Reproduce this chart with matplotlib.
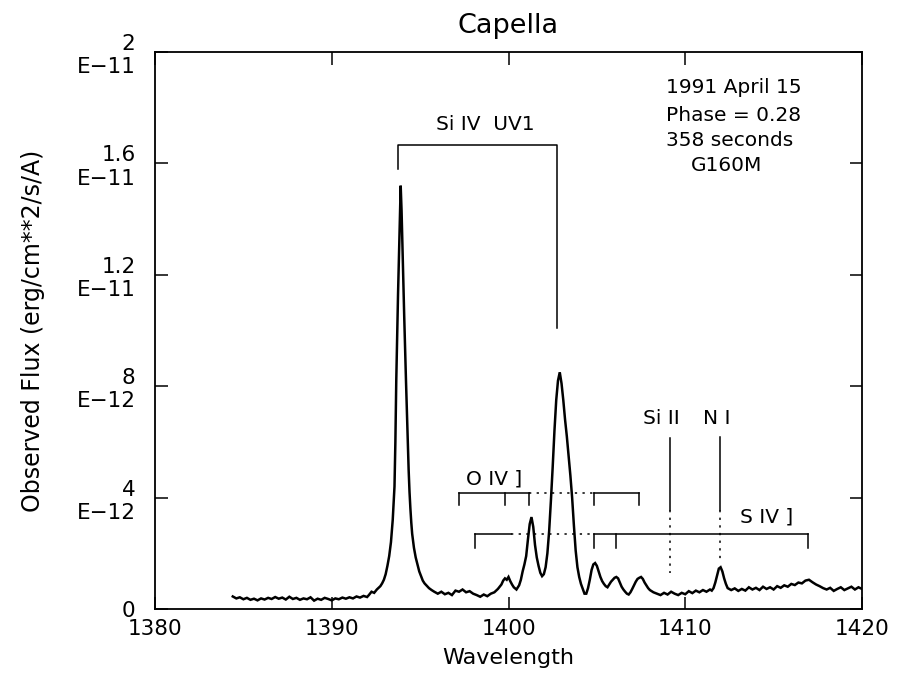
import matplotlib
matplotlib.use("Agg")
import matplotlib.pyplot as plt

plt.rcParams['font.family'] = ['DejaVu Sans']

# ---------------- data (flux in units of 1e-12 erg/cm^2/s/A) ----------------
wave = [
    1384.4, 1384.6, 1384.8, 1385.0, 1385.2, 1385.4, 1385.6, 1385.8, 1386.0, 1386.2,
    1386.4, 1386.6, 1386.8, 1387.0, 1387.2, 1387.4, 1387.6, 1387.8, 1388.0, 1388.2,
    1388.4, 1388.6, 1388.8, 1389.0, 1389.2, 1389.4, 1389.6, 1389.8, 1390.0, 1390.2,
    1390.4, 1390.6, 1390.8, 1391.0, 1391.2, 1391.4, 1391.6, 1391.8, 1392.0,
    1392.1, 1392.25, 1392.4, 1392.55, 1392.65, 1392.75, 1392.85, 1392.95, 1393.05, 1393.15,
    1393.25, 1393.35, 1393.45, 1393.55, 1393.6, 1393.65, 1393.7, 1393.75, 1393.8, 1393.85,
    1393.9, 1393.95, 1394.0, 1394.05, 1394.1, 1394.15, 1394.2, 1394.25, 1394.3, 1394.35,
    1394.4, 1394.45, 1394.5, 1394.55, 1394.65, 1394.75, 1394.85, 1394.95, 1395.05, 1395.15,
    1395.25, 1395.35, 1395.5, 1395.65, 1395.8,
    1396.0, 1396.2, 1396.4, 1396.6, 1396.8, 1397.0, 1397.2, 1397.4, 1397.6, 1397.8,
    1398.0, 1398.2, 1398.4, 1398.6, 1398.8, 1399.0, 1399.2, 1399.4, 1399.6, 1399.7,
    1399.8, 1399.9, 1400.0, 1400.1, 1400.2, 1400.3, 1400.45, 1400.6, 1400.7, 1400.8,
    1400.9, 1401.0, 1401.1, 1401.2, 1401.3, 1401.4, 1401.5, 1401.6, 1401.7, 1401.8,
    1401.9, 1402.0, 1402.1, 1402.2, 1402.3, 1402.4, 1402.5, 1402.6, 1402.7, 1402.8,
    1402.9, 1403.0, 1403.1, 1403.2, 1403.3, 1403.4, 1403.5, 1403.6, 1403.7, 1403.8,
    1403.9, 1404.0, 1404.1, 1404.2, 1404.3, 1404.4, 1404.5, 1404.6, 1404.7, 1404.8,
    1404.9, 1405.0, 1405.1, 1405.2, 1405.3, 1405.4, 1405.5, 1405.6, 1405.7, 1405.8,
    1405.9, 1406.0, 1406.1, 1406.2, 1406.3, 1406.4, 1406.5, 1406.6, 1406.7, 1406.8,
    1406.9, 1407.0, 1407.1, 1407.2, 1407.3, 1407.4, 1407.5, 1407.6, 1407.7, 1407.8,
    1407.9, 1408.0, 1408.2, 1408.4, 1408.6, 1408.8, 1409.0, 1409.2, 1409.4, 1409.6,
    1409.8, 1410.0, 1410.2, 1410.4, 1410.6, 1410.8, 1411.0, 1411.2, 1411.4, 1411.5,
    1411.6, 1411.7, 1411.8, 1411.9, 1412.0, 1412.1, 1412.2, 1412.3, 1412.4, 1412.6,
    1412.8, 1413.0, 1413.2, 1413.4, 1413.6, 1413.8, 1414.0, 1414.2, 1414.4, 1414.6,
    1414.8, 1415.0, 1415.2, 1415.4, 1415.6, 1415.8, 1416.0, 1416.2, 1416.4, 1416.6,
    1416.8, 1417.0, 1417.2, 1417.4, 1417.6, 1417.8, 1418.0, 1418.2, 1418.4, 1418.6,
    1418.8, 1419.0, 1419.2, 1419.4, 1419.6, 1419.8, 1420.0,
]
flux = [
    0.45, 0.38, 0.42, 0.35, 0.40, 0.33, 0.37, 0.31, 0.38, 0.34,
    0.40, 0.36, 0.43, 0.37, 0.41, 0.34, 0.44, 0.36, 0.40, 0.33,
    0.38, 0.35, 0.42, 0.30, 0.37, 0.33, 0.40, 0.36, 0.31, 0.38,
    0.35, 0.41, 0.37, 0.42, 0.38, 0.45, 0.41, 0.47, 0.43,
    0.50, 0.62, 0.58, 0.70, 0.76, 0.82, 0.92, 1.05, 1.25, 1.55,
    1.90, 2.40, 3.20, 4.40, 6.00, 8.20, 9.80, 11.30, 12.60, 14.00,
    15.20, 14.30, 13.00, 11.80, 10.50, 9.30, 8.20, 7.10, 6.10, 5.00,
    4.20, 3.60, 3.10, 2.70, 2.20, 1.85, 1.60, 1.35, 1.18, 1.02,
    0.92, 0.85, 0.75, 0.68, 0.62,
    0.55, 0.62, 0.53, 0.58, 0.50, 0.66, 0.62, 0.70, 0.60, 0.64,
    0.55, 0.50, 0.44, 0.52, 0.46, 0.55, 0.60, 0.72, 0.88, 1.02,
    1.10, 1.05, 1.15, 1.00, 0.88, 0.78, 0.70, 0.85, 1.05, 1.35,
    1.60, 1.90, 2.50, 3.05, 3.30, 2.95, 2.30, 1.85, 1.55, 1.30,
    1.18, 1.25, 1.50, 2.00, 2.80, 3.90, 5.10, 6.40, 7.50, 8.20,
    8.50, 8.10, 7.50, 6.80, 6.20, 5.50, 4.80, 4.00, 3.00, 2.10,
    1.50, 1.15, 0.90, 0.72, 0.55, 0.55, 0.75, 1.05, 1.40, 1.60,
    1.65, 1.55, 1.35, 1.15, 1.00, 0.90, 0.82, 0.78, 0.88, 0.98,
    1.05, 1.12, 1.15, 1.10, 0.95, 0.80, 0.70, 0.62, 0.55, 0.52,
    0.60, 0.72, 0.85, 0.98, 1.08, 1.12, 1.15, 1.08, 0.95, 0.85,
    0.75, 0.68, 0.60, 0.55, 0.50, 0.58, 0.52, 0.62, 0.55, 0.50,
    0.58, 0.53, 0.64, 0.57, 0.66, 0.60, 0.68, 0.62, 0.70, 0.66,
    0.75, 0.95, 1.20, 1.45, 1.50, 1.35, 1.10, 0.90, 0.75, 0.68,
    0.74, 0.65, 0.72, 0.66, 0.78, 0.70, 0.76, 0.68, 0.80, 0.72,
    0.78, 0.70, 0.82, 0.76, 0.85, 0.80, 0.90, 0.86, 0.95, 0.92,
    1.02, 1.05, 0.96, 0.88, 0.82, 0.75, 0.70, 0.76, 0.65, 0.72,
    0.78, 0.68, 0.74, 0.80, 0.70, 0.78, 0.72,
]

# line identifications (wavelengths in A)
siiv_waves = [1393.76, 1402.77]
oiv_waves = [1397.20, 1399.78, 1401.16, 1404.81, 1407.38]
siv_waves = [1398.13, 1404.81, 1406.06, 1416.95]
siII_wave = 1409.15
ni_wave = 1411.94

xticks = [1380, 1390, 1400, 1410, 1420]
yticks = [0, 4, 8, 12, 16, 20]
ytick_labels = ["0", "4\nE\u221212", "8\nE\u221212", "1.2\nE\u221211", "1.6\nE\u221211", "2\nE\u221211"]
info_lines = ["1991 April 15", "Phase = 0.28", "358 seconds", "G160M"]

# ---------------- figure ----------------
fig = plt.figure(figsize=(8.97, 6.83), dpi=100)
ax = fig.add_axes([155 / 897, 1 - 609 / 683, 707 / 897, 557 / 683])

ax.plot(wave, flux, color='black', lw=1.8, solid_joinstyle='miter')

ax.set_xlim(1380, 1420)
ax.set_ylim(0, 20)
ax.set_xticks(xticks)
ax.set_xticklabels([str(t) for t in xticks])
ax.set_yticks(yticks)
ax.set_yticklabels(ytick_labels)
ax.tick_params(axis='both', which='both', direction='in', length=9, width=1.1,
               top=True, right=True, labelsize=15.5, colors='black')
ax.tick_params(axis='x', pad=7)
ax.tick_params(axis='y', pad=14)
for sp in ax.spines.values():
    sp.set_linewidth(1.3)

ax.set_title("Capella", fontsize=19.5, pad=14)
ax.set_xlabel("Wavelength", fontsize=16, labelpad=7)
ax.set_ylabel("Observed Flux (erg/cm**2/s/A)", fontsize=17, va='center')
ax.yaxis.set_label_coords(-0.172, 0.5)

lw = 1.1
dot = (0, (1.5, 3.5))
k = 'black'

# Si IV UV1 bracket
ax.plot([siiv_waves[0], siiv_waves[0], siiv_waves[1], siiv_waves[1]],
        [15.8, 16.65, 16.65, 10.1], color=k, lw=lw)
ax.text((siiv_waves[0] + siiv_waves[1]) / 2 + 0.45, 17.2, "Si IV  UV1",
        ha='center', va='baseline', fontsize=14.5)

# O IV] bracket
oy, oyt = 4.15, 3.75
ax.plot([oiv_waves[0], oiv_waves[2]], [oy, oy], color=k, lw=lw)
ax.plot([oiv_waves[2], oiv_waves[3]], [oy, oy], color=k, lw=lw, ls=dot)
ax.plot([oiv_waves[3], oiv_waves[4]], [oy, oy], color=k, lw=lw)
for w in oiv_waves:
    ax.plot([w, w], [oyt, oy], color=k, lw=lw)
ax.text(1399.2, 4.47, "O IV ]", ha='center', va='baseline', fontsize=14.5)

# S IV] bracket
sy, syt = 2.68, 2.18
ax.plot([siv_waves[0], 1400.15], [sy, sy], color=k, lw=lw)
ax.plot([1400.15, siv_waves[1]], [sy, sy], color=k, lw=lw, ls=dot)
ax.plot([siv_waves[1], siv_waves[3]], [sy, sy], color=k, lw=lw)
for w in siv_waves:
    ax.plot([w, w], [syt, sy], color=k, lw=lw)
ax.text(1414.63, 3.1, "S IV ]", ha='center', va='baseline', fontsize=14.5)

# Si II and N I
ax.plot([siII_wave, siII_wave], [6.15, 3.57], color=k, lw=lw)
ax.plot([siII_wave, siII_wave], [3.57, 1.3], color=k, lw=lw, ls=dot)
ax.plot([ni_wave, ni_wave], [6.17, 3.57], color=k, lw=lw)
ax.plot([ni_wave, ni_wave], [3.57, 1.65], color=k, lw=lw, ls=dot)
ax.text(1408.64, 6.63, "Si II", ha='center', va='baseline', fontsize=14.5)
ax.text(1411.8, 6.63, "N I", ha='center', va='baseline', fontsize=14.5)

# observation info
info_x = [1408.93, 1408.93, 1408.93, 1410.34]
info_y = [18.52, 17.51, 16.61, 15.71]
for tx, ty, s in zip(info_x, info_y, info_lines):
    ax.text(tx, ty, s, ha='left', va='baseline', fontsize=14.5)

fig.savefig("out.png", dpi=100)
